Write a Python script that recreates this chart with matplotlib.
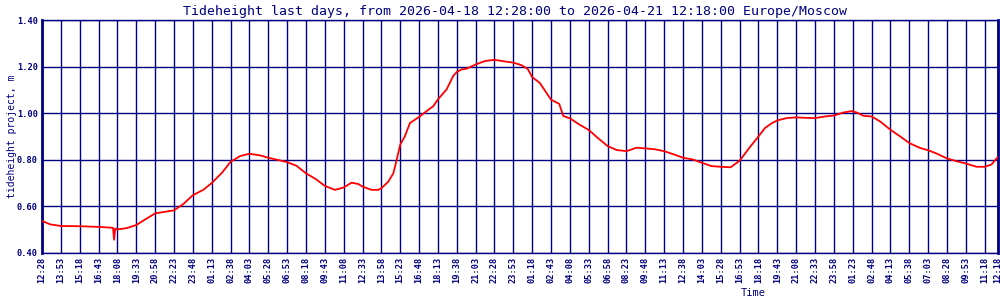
import matplotlib
matplotlib.use("Agg")
import matplotlib.pyplot as plt

# ---- data (minutes after 2026-04-18 12:28 Europe/Moscow, tide height in m) ----
minutes = [0, 36, 85, 170, 255, 307, 320, 325, 330, 340, 382, 425, 472, 510, 555, 595,
           637, 680, 727, 765, 810, 850, 893, 935, 983, 1020, 1065, 1105,
           1148, 1190, 1235, 1275, 1321, 1360, 1396, 1426, 1445, 1486, 1516, 1530,
           1561, 1584, 1599, 1615, 1636, 1659, 1700, 1734, 1764, 1785, 1824, 1854,
           1870, 1892, 1914, 1955, 1997, 2040, 2080, 2125, 2162, 2190, 2210, 2245,
           2295, 2332, 2350, 2380, 2425, 2465, 2508, 2550, 2591, 2635, 2681, 2720,
           2764, 2805, 2846, 2890, 2936, 2975, 3019, 3060, 3105, 3145, 3192, 3230,
           3259, 3290, 3315, 3357, 3400, 3447, 3485, 3530, 3570, 3613, 3650, 3673,
           3703, 3740, 3778, 3825, 3868, 3910, 3958, 3995, 4033, 4080, 4123, 4165,
           4214, 4250, 4281, 4310]
tide_m = [0.538, 0.523, 0.516, 0.515, 0.512, 0.509, 0.508, 0.457, 0.505, 0.501, 0.507, 0.520,
          0.548, 0.570, 0.577, 0.583, 0.610, 0.648, 0.671, 0.700, 0.743, 0.791, 0.816,
          0.826, 0.819, 0.809, 0.799, 0.790,
          0.774, 0.742, 0.717, 0.688, 0.671, 0.681, 0.702, 0.696, 0.685, 0.671, 0.671,
          0.678, 0.706, 0.742, 0.800, 0.865, 0.901, 0.958, 0.984, 1.009, 1.030, 1.059,
          1.102, 1.160, 1.177, 1.188, 1.191, 1.209, 1.224, 1.229, 1.223, 1.217, 1.206,
          1.190, 1.155, 1.129, 1.058, 1.040, 0.988, 0.978, 0.950, 0.928, 0.892, 0.859,
          0.842, 0.837, 0.852, 0.849, 0.845, 0.837, 0.824, 0.809, 0.801, 0.787, 0.773,
          0.770, 0.768, 0.796, 0.855, 0.900, 0.936, 0.957, 0.969, 0.979, 0.982, 0.980,
          0.979, 0.986, 0.990, 1.003, 1.009, 1.003, 0.989, 0.986, 0.965, 0.929, 0.901,
          0.872, 0.851, 0.841, 0.827, 0.806, 0.794, 0.784, 0.770, 0.770, 0.780, 0.813]

tick_minutes = list(range(0, 4251, 85)) + [4310]
tick_labels = ["12:28", "13:53", "15:18", "16:43", "18:08", "19:33", "20:58", "22:23",
               "23:48", "01:13", "02:38", "04:03", "05:28", "06:53", "08:18", "09:43",
               "11:08", "12:33", "13:58", "15:23", "16:48", "18:13", "19:38", "21:03",
               "22:28", "23:53", "01:18", "02:43", "04:08", "05:33", "06:58", "08:23",
               "09:48", "11:13", "12:38", "14:03", "15:28", "16:53", "18:18", "19:43",
               "21:08", "22:33", "23:58", "01:23", "02:48", "04:13", "05:38", "07:03",
               "08:28", "09:53", "11:18", "12:18"]
y_ticks = [0.40, 0.60, 0.80, 1.00, 1.20, 1.40]

title = "Tideheight last days, from 2026-04-18 12:28:00 to 2026-04-21 12:18:00 Europe/Moscow"

NAVY = "#000080"
MONO = "DejaVu Sans Mono"

fig = plt.figure(figsize=(10, 3), dpi=100)
ax = fig.add_axes([0.042, 47 / 300, 0.956, 233 / 300])

ax.plot(minutes, tide_m, color="#ff0000", linewidth=1.3, zorder=3)

ax.set_xlim(0, 4310)
ax.set_ylim(0.40, 1.40)
ax.set_xticks(tick_minutes)
ax.set_xticklabels(tick_labels, rotation=90, fontsize=6.2, family=MONO,
                   color=NAVY, fontweight="bold")
ax.set_yticks(y_ticks)
ax.set_yticklabels([f"{v:.2f}" for v in y_ticks], fontsize=6.2, family=MONO,
                   color=NAVY, fontweight="bold")
ax.tick_params(axis="both", length=0, pad=3)
ax.grid(True, color=NAVY, linewidth=1.0, zorder=1)
ax.set_axisbelow(True)
for side, sp in ax.spines.items():
    sp.set_color(NAVY)
    sp.set_linewidth(1.0)
ax.spines["left"].set_linewidth(2.0)
ax.spines["right"].set_linewidth(2.0)

fig.text(0.515, 0.985, title, ha="center", va="top", fontsize=9.5,
         family=MONO, color=NAVY)
fig.text(0.007, 0.545, "tideheight project, m", rotation=90, ha="left",
         va="center", fontsize=7.0, family=MONO, color=NAVY)
fig.text(0.753, 0.005, "Time", ha="center", va="bottom", fontsize=7.5,
         family=MONO, color=NAVY)

fig.savefig("out.png", dpi=100)
